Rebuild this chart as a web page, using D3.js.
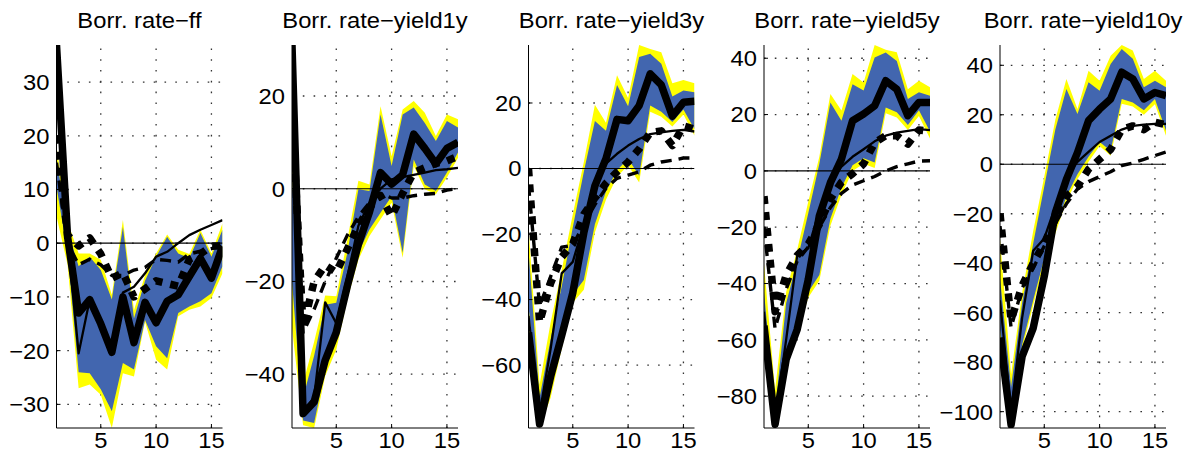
<!DOCTYPE html>
<html>
<head>
<meta charset="utf-8">
<script src="https://cdn.jsdelivr.net/npm/d3@7/dist/d3.min.js"></script>
<style>
  html, body { margin: 0; padding: 0; background: #fff; }
  svg { display: block; }
  text { font-family: "Liberation Sans", Arial, Helvetica, sans-serif; fill: #000; }
</style>
</head>
<body>
<svg id="chart" width="1197" height="463"></svg>
<script>
// Forecast horizons (x axis)
const horizons = [1, 2, 3, 4, 5, 6, 7, 8, 9, 10, 11, 12, 13, 14, 15, 16];
const xTicks = [5, 10, 15];

const panelTitles = ["Borr. rate\u2212ff", "Borr. rate\u2212yield1y", "Borr. rate\u2212yield3y",
                     "Borr. rate\u2212yield5y", "Borr. rate\u2212yield10y"];

// Axis limits and y ticks for each panel
const yDomains = [[-34.4, 36.9], [-51.6, 31], [-79.2, 37.7], [-91.3, 44.7], [-106.6, 48.2]];
const yTickSets = [
  [-30, -20, -10, 0, 10, 20, 30],
  [-40, -20, 0, 20],
  [-60, -40, -20, 0, 20],
  [-80, -60, -40, -20, 0, 20, 40],
  [-100, -80, -60, -40, -20, 0, 20, 40]
];

// ---- Borr. rate - ff ----
const ffOuterLow  = [5, -4, -27, -26.3, -28.2, -34.4, -24.2, -24.8, -14.6, -21.7, -23.5, -13.6, -12.4, -11.8, -10.2, -5.6];
const ffInnerLow  = [10.5, -2, -24, -24.2, -27.2, -31.3, -22.3, -23.5, -14.3, -19.2, -21.4, -13, -11.8, -10.8, -9.3, -4.3];
const ffInnerHigh = [16, 2.5, -4.3, -2.5, -5, -10.5, 3, -14, -7, -2.5, 1.2, -1.9, -2.8, 1.9, -2.5, 2.5];
const ffOuterHigh = [18, 4, -1.9, -1.9, -3.1, -9.6, 4.3, -12.5, -6, -1.9, 1.6, -1.2, -2, 2.5, -1.9, 3.7];
const ffSolidThick = [36.9, 1.2, -13, -10.5, -15, -20.3, -10, -18.5, -11, -14.8, -10.8, -9.6, -6.2, -2.8, -6.5, -0.6];
const ffSolidThin  = [30, 1, -20.5, -10.5, -15, -20.3, -9.2, -8.1, -5.6, -2.5, -1.6, 0, 1.5, 2.5, 3.4, 4.3];
const ffDashThick  = [20, 1.5, -0.5, 1, -2, -6.5, -5.5, -10, -8.5, -7, -7.5, -8, -3, -2, -0.5, -0.5];
const ffDashThin   = [15, 0, -4, -3, -4, -6, -6, -5, -4.5, -3, -3.2, -3.5, -2, -1.5, -1, -0.5];

// ---- Borr. rate - yield1y ----
const y1OuterLow  = [-30, -51, -51.6, -40.4, -34.7, -23.9, -15.3, -10.2, -6.6, -3, -14.9, 4.9, -0.1, -1.2, 2.4, 6.7];
const y1InnerLow  = [-20, -50, -50.5, -39, -32.5, -21.7, -13.8, -8.8, -5.2, -1.6, -13.8, 6.3, 0.9, -0.5, 3.5, 7.8];
const y1InnerHigh = [3, -45, -36, -25, -24.6, -13.8, -0.1, -0.5, 16, 4.9, 16, 17.5, 14.2, 10.3, 14.6, 13.2];
const y1OuterHigh = [10, -42, -33, -23, -23.2, -11, 1.7, 0.9, 17.8, 7, 17.1, 18.9, 16.4, 11.4, 16, 15];
const y1SolidThick = [31, -48.5, -46, -37, -31, -21, -12, -5, 3.5, 1, 3, 11.8, 8.7, 5.4, 8.7, 10];
const y1SolidThin  = [28, -48, -45, -24.5, -29, -19, -8, -3, 0, 2, 2.5, 3, 3.5, 4, 4.2, 4.5];
const y1DashThick  = [17, -30, -20, -16.5, -18, -13, -8, -4, -1.5, -6, -1, 3.5, 4.5, 5.5, 6, 7];
const y1DashThin   = [10, -31, -26, -20, -15, -10, -6, -3, -1, -2, -2, -1.5, -1.2, -1, -0.3, 0];

// ---- Borr. rate - yield3y ----
const y3OuterLow  = [-50, -79.2, -70, -55, -41, -37, -19.5, -9.5, -2.5, 1, -4.3, 17.3, 15.8, 12.8, 16.5, 10];
const y3InnerLow  = [-42, -77, -67, -52, -38.5, -34, -17, -7, -0.5, 3, -2.2, 19.2, 17.3, 14.2, 18, 12];
const y3InnerHigh = [-25, -70, -52, -36, -18, -1, 14.5, 11.5, 25.5, 19, 34, 35, 32, 22, 23.8, 23.3];
const y3OuterHigh = [-18, -66, -47, -31, -14, 2, 19.5, 14, 28.5, 21.5, 37.7, 36.5, 35.5, 26, 27, 26];
const y3SolidThick = [-50, -78, -63.5, -51, -38, -19.6, -5.3, 3, 15, 14.6, 19.2, 28.9, 25.5, 16, 20.2, 20.5];
const y3SolidThin  = [-45, -75, -55, -32, -28.5, -17, -6, 1.5, 4.5, 7, 9, 10.5, 11, 11.5, 11.8, 11.3];
const y3DashThick  = [0, -47, -35, -27, -23, -14, -9, -4.5, -1, 2, 6, 11, 11.5, 7, 13, 12];
const y3DashThin   = [-5, -42, -33, -24, -23.5, -17, -11, -6, -3, -2, -1, 1, 2, 2.5, 3.2, 3.2];

// ---- Borr. rate - yield5y ----
const y5OuterLow  = [-60, -91.3, -70, -58, -45, -39, -19.5, -8.5, 0, 2.5, 1, 20.5, 19, 14.5, 19.5, 11.5];
const y5InnerLow  = [-55, -90, -68, -56, -43, -37, -17, -6, 2, 4.5, 3, 22.5, 20.8, 16.3, 21.5, 14];
const y5InnerHigh = [-43, -85, -47, -32, -15, 2.5, 24.3, 17.8, 30.8, 28.5, 40.3, 42, 39, 25.5, 27.9, 26.7];
const y5OuterHigh = [-33, -78, -43, -28, -11, 5, 27.3, 21.4, 34.4, 31.4, 44.7, 43, 42.1, 29, 32, 29.7];
const y5SolidThick = [-55, -90, -67, -56.3, -38.6, -16, -4.2, 4.2, 17.8, 20.2, 23.1, 32, 29, 19.6, 24.3, 24.3];
const y5SolidThin  = [-50, -88, -60, -30, -27.5, -14, -4, 1.5, 5, 7.7, 10.5, 12.5, 13.6, 14.2, 14.8, 14.5];
const y5DashThick  = [-9, -50, -37, -30, -26, -19, -10, -4, -1, 2.5, 10, 12.5, 12.5, 9.5, 14.5, 14];
const y5DashThin   = [-20, -56, -42, -32, -27, -20, -13, -8, -5, -3.5, -2, 0, 1.5, 2.5, 3.5, 3.6];

// ---- Borr. rate - yield10y ----
const y10OuterLow  = [-78, -106.6, -75, -57, -40, -28, -15, -6, 1, 7.4, 3.4, 24.5, 23.3, 20, 24.3, 11.5];
const y10InnerLow  = [-67, -104, -73, -55, -38, -26, -13, -4, 3, 9, 5.5, 26.4, 25, 21.8, 26.4, 13.5];
const y10InnerHigh = [-46, -90, -56, -32, -9, 14, 30.4, 20.3, 33.1, 29.7, 40.5, 46.6, 42.6, 31.1, 33.8, 31.1];
const y10OuterHigh = [-30, -85, -52, -27, -5, 18, 34.5, 22.3, 37.8, 33.8, 43.9, 48.2, 46, 34.5, 37.8, 33.8];
const y10SolidThick = [-70, -105.3, -77.7, -66.2, -45.3, -19.6, -6.1, 4.7, 17.6, 22.3, 26.4, 37.2, 34.5, 26.4, 29, 27.7];
const y10SolidThin  = [-55, -100, -62, -35, -30, -17, -5, 1, 5, 9, 11.5, 14, 15.5, 16, 16.3, 16.3];
const y10DashThick  = [-20, -63, -49, -40, -32, -22, -13, -9, -2, 2, 6, 14, 15.5, 14, 17, 16];
const y10DashThin   = [-25, -66, -50, -42, -33, -24, -16, -10, -7, -5, -3, -0.5, 0.5, 2, 3.5, 5];

const panels = [
  { outerLow: ffOuterLow, outerHigh: ffOuterHigh, innerLow: ffInnerLow, innerHigh: ffInnerHigh,
    solidThick: ffSolidThick, solidThin: ffSolidThin, dashThick: ffDashThick, dashThin: ffDashThin },
  { outerLow: y1OuterLow, outerHigh: y1OuterHigh, innerLow: y1InnerLow, innerHigh: y1InnerHigh,
    solidThick: y1SolidThick, solidThin: y1SolidThin, dashThick: y1DashThick, dashThin: y1DashThin },
  { outerLow: y3OuterLow, outerHigh: y3OuterHigh, innerLow: y3InnerLow, innerHigh: y3InnerHigh,
    solidThick: y3SolidThick, solidThin: y3SolidThin, dashThick: y3DashThick, dashThin: y3DashThin },
  { outerLow: y5OuterLow, outerHigh: y5OuterHigh, innerLow: y5InnerLow, innerHigh: y5InnerHigh,
    solidThick: y5SolidThick, solidThin: y5SolidThin, dashThick: y5DashThick, dashThin: y5DashThin },
  { outerLow: y10OuterLow, outerHigh: y10OuterHigh, innerLow: y10InnerLow, innerHigh: y10InnerHigh,
    solidThick: y10SolidThick, solidThin: y10SolidThin, dashThick: y10DashThick, dashThin: y10DashThin }
];

// Layout
const panelLefts = [56.5, 292, 528.5, 764, 1000];
const plotWidth = 166;
const plotTop = 45;
const plotBottom = 428;
const fontSize = 22;
const textStretch = 1.08;

const svg = d3.select("#chart");
const fmt = d3.format("d");

// text placed at (x, y) and widened slightly around its anchor point
function label(parent, x, y, str, anchor, dy) {
  parent.append("text")
    .attr("transform", `translate(${x},${y}) scale(${textStretch},1)`)
    .attr("dy", dy || null)
    .attr("text-anchor", anchor)
    .attr("font-size", fontSize)
    .text(str);
}

panels.forEach((p, k) => {
  const left = panelLefts[k];
  const x = d3.scaleLinear().domain([1, 16]).range([left, left + plotWidth]);
  const y = d3.scaleLinear().domain(yDomains[k]).range([plotBottom, plotTop]);

  const g = svg.append("g");
  const clipId = "clip" + k;
  svg.append("clipPath").attr("id", clipId)
    .append("rect").attr("x", left).attr("y", plotTop)
    .attr("width", plotWidth).attr("height", plotBottom - plotTop);

  // dotted grid
  const grid = g.append("g").attr("stroke", "#333").attr("stroke-width", 1.3)
    .attr("stroke-dasharray", "1.6,9.2").attr("fill", "none");
  yTickSets[k].forEach(v => {
    grid.append("line").attr("x1", left).attr("x2", left + plotWidth)
      .attr("y1", y(v)).attr("y2", y(v));
  });
  xTicks.forEach(v => {
    grid.append("line").attr("x1", x(v)).attr("x2", x(v))
      .attr("y1", plotBottom).attr("y2", plotTop);
  });

  const data = g.append("g").attr("clip-path", `url(#${clipId})`);

  // confidence bands
  const band = (lo, hi) => d3.area()
    .x((d, i) => x(horizons[i]))
    .y0((d, i) => y(lo[i]))
    .y1((d, i) => y(hi[i]))(horizons);

  data.append("path").attr("d", band(p.outerLow, p.outerHigh)).attr("fill", "#ffff00");
  data.append("path").attr("d", band(p.innerLow, p.innerHigh)).attr("fill", "#4266af");

  // zero line
  data.append("line").attr("x1", left).attr("x2", left + plotWidth)
    .attr("y1", y(0)).attr("y2", y(0)).attr("stroke", "#000").attr("stroke-width", 1.2);

  const line = d3.line().x((d, i) => x(horizons[i])).y(d => y(d));
  const styles = [
    { key: "dashThin", w: 3.4, dash: "11,7" },
    { key: "dashThick", w: 7.5, dash: "8,8" },
    { key: "solidThin", w: 2.3, dash: null },
    { key: "solidThick", w: 7.5, dash: null }
  ];
  styles.forEach(s => {
    data.append("path").attr("d", line(p[s.key]))
      .attr("fill", "none").attr("stroke", "#000")
      .attr("stroke-width", s.w)
      .attr("stroke-linejoin", "round")
      .attr("stroke-linecap", "butt")
      .attr("stroke-dasharray", s.dash);
  });

  // axes lines and inward ticks
  const ax = g.append("g").attr("stroke", "#000").attr("stroke-width", 1);
  ax.append("line").attr("x1", left).attr("x2", left).attr("y1", plotTop).attr("y2", plotBottom);
  ax.append("line").attr("x1", left).attr("x2", left + plotWidth).attr("y1", plotBottom).attr("y2", plotBottom);
  yTickSets[k].forEach(v => {
    ax.append("line").attr("x1", left).attr("x2", left + 4).attr("y1", y(v)).attr("y2", y(v));
  });
  xTicks.forEach(v => {
    ax.append("line").attr("x1", x(v)).attr("x2", x(v)).attr("y1", plotBottom).attr("y2", plotBottom - 4);
  });

  // tick labels
  yTickSets[k].forEach(v => label(g, left - 7, y(v), fmt(v), "end", "0.36em"));
  xTicks.forEach(v => label(g, x(v), 448, fmt(v), "middle"));

  // title
  label(g, left + plotWidth / 2, 27.5, panelTitles[k], "middle");
});
</script>
</body>
</html>
